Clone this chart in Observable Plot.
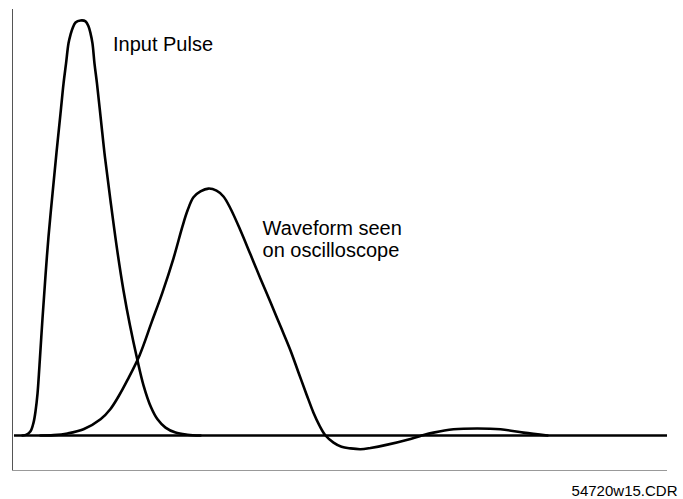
<!DOCTYPE html>
<html>
<head>
<meta charset="utf-8">
<script src="https://cdn.jsdelivr.net/npm/d3@7"></script>
<script src="https://cdn.jsdelivr.net/npm/@observablehq/plot@0.6"></script>
<style>
  html, body { margin: 0; padding: 0; background: #fff; }
  #chart { width: 683px; height: 499px; }
</style>
</head>
<body>
<div id="chart"></div>
<script>
// Input pulse: time (ns) and normalized amplitude
const pulseT = [1.53, 2.14, 2.75, 3.21, 3.51, 3.82, 4.12, 4.58, 5.04, 5.50, 6.11, 6.72, 7.33, 7.79, 8.17, 8.55, 8.86, 9.16, 9.62, 10.38, 11.15, 11.60, 11.91, 12.21, 12.52, 12.90, 13.51, 14.12, 14.96, 15.99, 16.95, 17.94, 19.01, 20.00, 21.15, 22.14, 23.36, 24.89, 26.72, 28.70];
const pulseV = [0, 0.002, 0.010, 0.031, 0.058, 0.101, 0.169, 0.282, 0.386, 0.480, 0.583, 0.682, 0.776, 0.848, 0.896, 0.945, 0.966, 0.981, 0.995, 1.0, 0.998, 0.986, 0.969, 0.945, 0.896, 0.848, 0.759, 0.670, 0.566, 0.446, 0.349, 0.265, 0.186, 0.121, 0.068, 0.039, 0.019, 0.007, 0.002, 0];

// Waveform seen on the oscilloscope (slower rise, then ringing about zero)
const scopeT = [4.28, 6.26, 8.40, 10.84, 13.44, 14.96, 16.18, 17.56, 19.39, 21.22, 22.90, 24.58, 25.95, 26.72, 27.63, 28.70, 29.92, 31.15, 32.21, 33.28, 34.81, 36.34, 37.86, 39.39, 40.92, 42.44, 43.66, 44.89, 45.95, 46.87, 47.79, 49.01, 50.23, 51.60, 53.13, 54.66, 57.25, 60.31, 62.29, 64.28, 67.33, 70.99, 74.50, 78.02, 81.68];
const scopeV = [0, 0.001, 0.005, 0.015, 0.039, 0.064, 0.094, 0.134, 0.193, 0.272, 0.345, 0.427, 0.504, 0.542, 0.574, 0.588, 0.595, 0.590, 0.576, 0.547, 0.494, 0.436, 0.378, 0.321, 0.263, 0.205, 0.152, 0.099, 0.055, 0.024, 0, -0.017, -0.027, -0.031, -0.033, -0.030, -0.022, -0.010, -0.001, 0.007, 0.015, 0.017, 0.015, 0.007, 0];

// Annotation texts and their anchor points (time, amplitude)
const labelText = ["Input Pulse", "Waveform seen\non oscilloscope"];
const labelT = [15.34, 38.17];
const labelV = [0.964, 0.521];
const caption = ["54720w15.CDR"];

const pulse = pulseT.map((t, i) => ({t, v: pulseV[i]}));
const scope = scopeT.map((t, i) => ({t, v: scopeV[i]}));
const labels = labelText.map((text, i) => ({text, t: labelT[i], v: labelV[i]}));

const yMin = -0.0843, yMax = 1.0265;

const chart = Plot.plot({
  width: 683,
  height: 499,
  marginLeft: 12,
  marginRight: 16,
  marginTop: 9,
  marginBottom: 29,
  style: {fontFamily: "'Liberation Sans', Arial, Helvetica, sans-serif", background: "#fff", color: "#000"},
  x: {domain: [0, 100], axis: null},
  y: {domain: [yMin, yMax], axis: null},
  marks: [
    Plot.ruleX([0], {stroke: "#555", strokeWidth: 1}),
    Plot.ruleY([yMin], {stroke: "#999", strokeWidth: 1}),
    Plot.ruleY([0], {x1: 0.3, x2: 100, stroke: "#000", strokeWidth: 2.5}),
    Plot.line(pulse, {x: "t", y: "v", stroke: "#000", strokeWidth: 2.6, curve: "catmull-rom"}),
    Plot.line(scope, {x: "t", y: "v", stroke: "#000", strokeWidth: 2.6, curve: "catmull-rom"}),
    Plot.text(labels, {x: "t", y: "v", text: "text", textAnchor: "start", lineAnchor: "top", lineHeight: 1.1, fontSize: 20, fill: "#000"}),
    Plot.text(caption, {text: d => d, frameAnchor: "bottom-right", textAnchor: "end", lineAnchor: "top", dx: 10, dy: 15, fontSize: 15, fill: "#000"})
  ]
});

document.getElementById("chart").append(chart);
</script>
</body>
</html>
